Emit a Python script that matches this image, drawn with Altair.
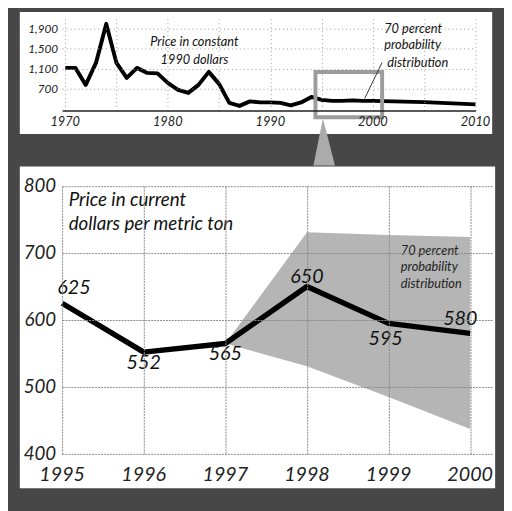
import altair as alt
import pandas as pd

FONT = "Lato"

# ---------------- data: top panel (constant 1990 dollars) ----------------
top_years = [1970, 1971, 1972, 1973, 1974, 1975, 1976, 1977, 1978, 1979,
             1980, 1981, 1982, 1983, 1984, 1985, 1986, 1987, 1988, 1989,
             1990, 1991, 1992, 1993, 1994, 1995, 1996, 1997, 1998, 1999,
             2000, 2005, 2010]
top_values = [1120, 1120, 780, 1220, 2000, 1220, 920, 1120, 1020, 1010,
              820, 680, 620, 780, 1040, 800, 420, 360, 450, 430,
              430, 420, 370, 430, 540, 480, 460, 460, 470, 460,
              460, 435, 390]
top_x_grid = [1970, 1975, 1980, 1985, 1990, 1995, 2000, 2005, 2010]
top_x_labels = [1970, 1980, 1990, 2000, 2010]
top_y_ticks = [700, 1100, 1500, 1900]
top_note1 = ["Price in constant", "1990 dollars"]
top_note1_x = [1982.6, 1982.6]
top_note1_y = [1630, 1275]
top_note2 = ["70 percent", "probability", "distribution"]
top_note2_x = [2001.1, 2001.1, 2001.4]
top_note2_y = [1905, 1570, 1220]
leader_x, leader_y, leader_x2, leader_y2 = [2000.9], [1230], [1999.2], [510]
zoom_box_x, zoom_box_x2, zoom_box_y, zoom_box_y2 = [1994.4], [2000.9], [1038], [132]
pointer_y = [112, -830]
pointer_x = [1995.13, 1994.2]
pointer_x2 = [1995.13, 1996.3]

# ---------------- data: bottom panel (current dollars) ----------------
bot_years = [1995, 1996, 1997, 1998, 1999, 2000]
bot_values = [625, 552, 565, 650, 595, 580]
bot_labels = ["625", "552", "565", "650", "595", "580"]
band_years = [1997, 1998, 1999, 2000]
band_low = [565, 531, 485, 437]
band_high = [565, 731, 727, 724]
bot_x_ticks = [1995, 1996, 1997, 1998, 1999, 2000]
bot_y_ticks = [400, 500, 600, 700, 800]
bot_title = ["Price in current", "dollars per metric ton"]
bot_title_x = [1995.08, 1995.08]
bot_title_y = [779, 744]
band_note = ["70 percent", "probability", "distribution"]
band_note_x = [1999.15, 1999.15, 1999.15]
band_note_y = [703, 679, 654]

# label offsets (style) for the value labels
label_dx = [12, 0, 0, 0, -3, -10]
label_dy = [-15, 11, 11, -10, 16, -15]

W1, H1 = 420, 93
W2, H2 = 437, 272

one = pd.DataFrame({"k": [0]})

# ---------------- top panel ----------------
xs1 = alt.Scale(domain=[1969.7, 2010], nice=False, zero=False)
ys1 = alt.Scale(domain=[270, 2100], nice=False, zero=False)

ax1x = alt.Axis(values=top_x_grid, title=None, labels=False, ticks=False,
                domain=True, domainColor="#222", domainWidth=1.5,
                grid=True, gridColor="#999", gridDash=[1, 3], gridWidth=1,
                zindex=1)
ax1y = alt.Axis(values=top_y_ticks, title=None, labels=False, ticks=False,
                domain=False,
                grid=True, gridColor="#999", gridDash=[1, 3], gridWidth=1,
                zindex=1)


def X1(f):
    return alt.X(f, scale=xs1, axis=ax1x)


def Y1(f):
    return alt.Y(f, scale=ys1, axis=ax1y)


top_df = pd.DataFrame({"year": top_years, "value": top_values})

panel1 = alt.Chart(one).mark_rect(color="white").encode(
    x=alt.value(-43), x2=alt.value(W1 + 17), y=alt.value(-7), y2=alt.value(H1 + 24))

line1 = alt.Chart(top_df).mark_line(color="black", strokeWidth=4,
                                    strokeJoin="round").encode(
    x=X1("year:Q"), y=Y1("value:Q"))

box1 = alt.Chart(pd.DataFrame({"x": zoom_box_x, "x2": zoom_box_x2,
                               "y": zoom_box_y, "y2": zoom_box_y2})).mark_rect(
    fillOpacity=0, stroke="#9c9c9c", strokeWidth=4).encode(
    x=X1("x:Q"), x2="x2:Q", y=Y1("y:Q"), y2="y2:Q")

pointer = alt.Chart(pd.DataFrame({"y": pointer_y, "x": pointer_x,
                                  "x2": pointer_x2})).mark_area(
    color="#ababab", orient="horizontal").encode(
    y=Y1("y:Q"), x=X1("x:Q"), x2="x2:Q")

leader = alt.Chart(pd.DataFrame({"x": leader_x, "y": leader_y,
                                 "x2": leader_x2, "y2": leader_y2})).mark_rule(
    color="#333", strokeWidth=1).encode(
    x=X1("x:Q"), x2="x2:Q", y=Y1("y:Q"), y2="y2:Q")

note1 = alt.Chart(pd.DataFrame({"t": top_note1, "x": top_note1_x,
                                "y": top_note1_y})).mark_text(
    font=FONT, fontStyle="italic", fontSize=13, color="#111",
    align="center", baseline="middle").encode(
    x=X1("x:Q"), y=Y1("y:Q"), text="t:N")

note2 = alt.Chart(pd.DataFrame({"t": top_note2, "x": top_note2_x,
                                "y": top_note2_y})).mark_text(
    font=FONT, fontStyle="italic", fontSize=13, color="#111",
    align="left", baseline="middle").encode(
    x=X1("x:Q"), y=Y1("y:Q"), text="t:N")

tx1 = alt.Chart(pd.DataFrame({"v": top_x_labels})).mark_text(
    font=FONT, fontStyle="italic", fontSize=13, color="#222",
    align="center", baseline="middle").encode(
    x=X1("v:Q"), y=alt.value(H1 + 12), text=alt.Text("v:Q", format="d"))

ty1 = alt.Chart(pd.DataFrame({"v": top_y_ticks})).mark_text(
    font=FONT, fontStyle="italic", fontSize=12, color="#222",
    align="right", baseline="middle").encode(
    y=Y1("v:Q"), x=alt.value(-4), text=alt.Text("v:Q", format=",d"))

top = alt.layer(panel1, pointer, line1, box1, leader, note1, note2,
                tx1, ty1).properties(width=W1, height=H1)

# ---------------- bottom panel ----------------
xs2 = alt.Scale(domain=[1995, 2000.27], nice=False, zero=False)
ys2 = alt.Scale(domain=[400, 800], nice=False, zero=False)

ax2x = alt.Axis(values=bot_x_ticks, title=None, labels=False, ticks=False,
                domain=False,
                grid=True, gridColor="#8a8a8a", gridDash=[2, 1], gridWidth=1,
                zindex=1)
ax2y = alt.Axis(values=bot_y_ticks, title=None, labels=False, ticks=False,
                domain=False,
                grid=True, gridColor="#8a8a8a", gridDash=[2, 1], gridWidth=1,
                zindex=1)


def X2(f):
    return alt.X(f, scale=xs2, axis=ax2x)


def Y2(f):
    return alt.Y(f, scale=ys2, axis=ax2y)


panel2 = alt.Chart(one).mark_rect(color="white").encode(
    x=alt.value(-43), x2=alt.value(W2 + 3), y=alt.value(-20), y2=alt.value(H2 + 35))

band = alt.Chart(pd.DataFrame({"year": band_years, "low": band_low,
                               "high": band_high})).mark_area(
    color="#b5b5b5").encode(
    x=X2("year:Q"), y=Y2("low:Q"), y2="high:Q")

bot_df = pd.DataFrame({"year": bot_years, "value": bot_values, "lab": bot_labels})

line2 = alt.Chart(bot_df).mark_line(color="black", strokeWidth=5.5,
                                    strokeJoin="round").encode(
    x=X2("year:Q"), y=Y2("value:Q"))

labels = []
for i in range(len(bot_years)):
    labels.append(
        alt.Chart(bot_df.iloc[[i]]).mark_text(
            font=FONT, fontStyle="italic", fontSize=20, color="#111",
            align="center", baseline="middle",
            dx=label_dx[i], dy=label_dy[i]).encode(
            x=X2("year:Q"), y=Y2("value:Q"), text="lab:N"))

title2 = alt.Chart(pd.DataFrame({"t": bot_title, "x": bot_title_x,
                                 "y": bot_title_y})).mark_text(
    font=FONT, fontStyle="italic", fontSize=19, color="#111",
    align="left", baseline="middle").encode(
    x=X2("x:Q"), y=Y2("y:Q"), text="t:N")

bnote = alt.Chart(pd.DataFrame({"t": band_note, "x": band_note_x,
                                "y": band_note_y})).mark_text(
    font=FONT, fontStyle="italic", fontSize=13, color="#222",
    align="left", baseline="middle").encode(
    x=X2("x:Q"), y=Y2("y:Q"), text="t:N")

tx2 = alt.Chart(pd.DataFrame({"v": bot_x_ticks})).mark_text(
    font=FONT, fontStyle="italic", fontSize=20, color="#222",
    align="center", baseline="middle").encode(
    x=X2("v:Q"), y=alt.value(H2 + 22), text=alt.Text("v:Q", format="d"))

ty2 = alt.Chart(pd.DataFrame({"v": bot_y_ticks})).mark_text(
    font=FONT, fontStyle="italic", fontSize=19, color="#222",
    align="right", baseline="middle").encode(
    y=Y2("v:Q"), x=alt.value(-6), text=alt.Text("v:Q", format="d"))

bottom = alt.layer(panel2, band, line2, title2, bnote, *labels,
                   tx2, ty2).properties(width=W2, height=H2)

chart = alt.vconcat(top, bottom, spacing=77, bounds="flush").properties(
    padding={"left": 12, "top": 0, "right": 9, "bottom": 19},
    background="#474747",
).configure_view(stroke=None)

chart.save("out.html", embed_options={"renderer": "svg", "actions": False})
